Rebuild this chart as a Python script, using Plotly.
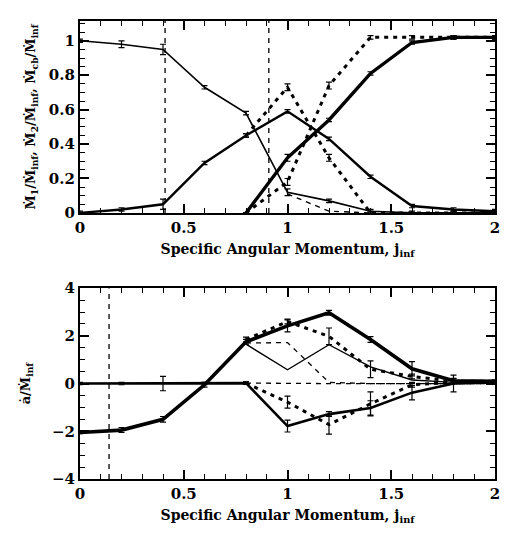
import plotly.graph_objects as go
from plotly.subplots import make_subplots

# ---- data ----------------------------------------------------------------
j = [0.0, 0.2, 0.4, 0.6, 0.8, 1.0, 1.2, 1.4, 1.6, 1.8, 2.0]
j_late = [0.8, 1.0, 1.2, 1.4, 1.6, 1.8, 2.0]
j_m1b = [1.0, 1.2, 1.4]

# accretion fractions, case a (solid)
m1_a = [1.00, 0.98, 0.95, 0.73, 0.58, 0.12, 0.07, 0.01, 0.00, 0.00, 0.00]
m2_a = [0.00, 0.02, 0.05, 0.29, 0.45, 0.59, 0.43, 0.21, 0.04, 0.02, 0.01]
mcb_a = [0.00, 0.32, 0.54, 0.81, 0.99, 1.02, 1.02]
m1_a_err = [0.01, 0.02, 0.03, 0.01, 0.01, 0.02, 0.01, 0.01, 0.01, 0.01, 0.01]
m2_a_err = [0.01, 0.01, 0.03, 0.01, 0.01, 0.01, 0.01, 0.01, 0.01, 0.01, 0.01]
mcb_a_err = [0.0, 0.02, 0.01, 0.01, 0.01, 0.01, 0.01]

# accretion fractions, case b (dashed)
m1_b = [0.11, 0.01, 0.00]
m2_b = [0.45, 0.73, 0.32, 0.00, 0.00, 0.00, 0.00]
mcb_b = [0.00, 0.18, 0.74, 1.02, 1.02, 1.02, 1.02]
m2_b_err = [0.01, 0.02, 0.02, 0.01, 0.0, 0.0, 0.0]
mcb_b_err = [0.0, 0.02, 0.02, 0.01, 0.01, 0.01, 0.01]

# separation change rates, case a (solid)
adot_tot = [-2.05, -1.95, -1.50, -0.05, 1.75, 2.42, 2.97, 1.85, 0.62, 0.12, 0.10]
adot_lo = [0.00, 0.00, 0.00, 0.00, 0.02, -1.78, -1.28, -1.02, -0.38, 0.00, 0.05]
adot_hi = [1.65, 0.58, 1.63, 0.70, 0.15, 0.05, 0.05]
adot_tot_err = [0.05, 0.1, 0.12, 0.1, 0.1, 0.25, 0.1, 0.12, 0.3, 0.1, 0.05]
adot_lo_err = [0.05, 0.05, 0.3, 0.05, 0.05, 0.25, 0.1, 0.3, 0.3, 0.35, 0.05]

# separation change rates, case b (dashed)
adot_tot_b = [1.85, 2.60, 1.98, 0.60, 0.30, 0.10, 0.10]
adot_mid_b = [1.70, 1.72, 0.05, 0.00, 0.00, 0.00, 0.00]
adot_zero_b = [0.02, 0.00, 0.00, 0.00, 0.00, 0.00, 0.00]
adot_lo_b = [0.02, -0.78, -1.72, -0.85, -0.05, 0.05, 0.05]
adot_tot_b_err = [0.1, 0.1, 0.35, 0.35, 0.1, 0.1, 0.05]
adot_lo_b_err = [0.05, 0.25, 0.4, 0.5, 0.1, 0.05, 0.05]

# reference positions marked by vertical dashed lines
jmarks_top = [0.41, 0.91]
jmarks_bot = [0.14]

# axis ranges and tick spacing (major, minor)
x_range = [0, 2]
top_range = [0, 1.115]
bot_range = [-4, 4]
x_ticks = (0.5, 0.1)
top_ticks = (0.2, 0.05)
bot_ticks = (2, 0.5)

# ---- figure --------------------------------------------------------------
fig = make_subplots(rows=2, cols=1, vertical_spacing=0.0)
FONT = "DejaVu Serif"
DOTS = "4px,5px"
DASH = "5px,5px"


def curve(x, y, row, width, dash="solid", err=None):
    tr = go.Scatter(
        x=x, y=y, mode="lines",
        line=dict(color="black", width=width, dash=dash),
        showlegend=False, hoverinfo="skip",
    )
    if err is not None:
        tr.error_y = dict(type="data", array=err, visible=True,
                          color="black", thickness=1.2, width=3)
    fig.add_trace(tr, row=row, col=1)


# top panel
curve(j, m1_a, 1, 1.6, err=m1_a_err)
curve(j, m2_a, 1, 2.4, err=m2_a_err)
curve(j_late, mcb_a, 1, 3.4, err=mcb_a_err)
curve(j_m1b, m1_b, 1, 1.4, dash=DASH)
curve(j_late, m2_b, 1, 3.0, dash=DOTS, err=m2_b_err)
curve(j_late, mcb_b, 1, 3.0, dash=DOTS, err=mcb_b_err)
for xm in jmarks_top:
    curve([xm, xm], [0, 1.12], 1, 1.3, dash=DASH)

# bottom panel
curve(j, adot_tot, 2, 3.6, err=adot_tot_err)
curve(j, adot_lo, 2, 2.6, err=adot_lo_err)
curve(j_late, adot_hi, 2, 1.4)
curve(j_late, adot_tot_b, 2, 3.0, dash=DOTS, err=adot_tot_b_err)
curve(j_late, adot_mid_b, 2, 1.3, dash=DASH)
curve(j_late, adot_zero_b, 2, 1.3, dash=DASH)
curve(j_late, adot_lo_b, 2, 3.0, dash=DOTS, err=adot_lo_b_err)
for xm in jmarks_bot:
    curve([xm, xm], [-4, 4], 2, 1.3, dash=DASH)

# framed axes with inward ticks on all four sides
axis_common = dict(
    showline=True, linewidth=2.2, linecolor="black", mirror="allticks",
    ticks="inside", ticklen=9, tickwidth=1.7, tickcolor="black",
    showgrid=False, zeroline=False, tickmode="linear", tick0=0,
    tickfont=dict(family=FONT, size=15, color="black", weight="bold"),
)


def minor(step):
    return dict(dtick=step, tick0=0, ticks="inside", ticklen=5,
                tickwidth=1.3, tickcolor="black", showgrid=False)


xtitle = dict(text="Specific Angular Momentum, j<sub>inf</sub>",
              font=dict(family=FONT, size=14, color="black", weight="bold"),
              standoff=8)

fig.update_xaxes(range=x_range, dtick=x_ticks[0], minor=minor(x_ticks[1]),
                 title=xtitle, **axis_common)

fig.update_yaxes(range=top_range, dtick=top_ticks[0],
                 minor=minor(top_ticks[1]),
                 title=dict(text="M&#775;<sub>1</sub>/M&#775;<sub>inf</sub>, "
                                 "M&#775;<sub>2</sub>/M&#775;<sub>inf</sub>, "
                                 "M&#775;<sub>cb</sub>/M&#775;<sub>inf</sub>",
                            font=dict(family=FONT, size=13, color="black",
                                      weight="bold"),
                            standoff=10),
                 row=1, col=1, **axis_common)

fig.update_yaxes(range=bot_range, dtick=bot_ticks[0],
                 minor=minor(bot_ticks[1]),
                 title=dict(text="a&#775;/M&#775;<sub>inf</sub>",
                            font=dict(family=FONT, size=13, color="black",
                                      weight="bold"),
                            standoff=18),
                 row=2, col=1, **axis_common)

fig.update_layout(
    width=512, height=533,
    margin=dict(l=80, r=12, t=15, b=50),
    paper_bgcolor="white", plot_bgcolor="white",
    yaxis=dict(domain=[0.581, 1.0]),
    yaxis2=dict(domain=[0.0, 0.4167]),
)

fig.write_html("out.html")
